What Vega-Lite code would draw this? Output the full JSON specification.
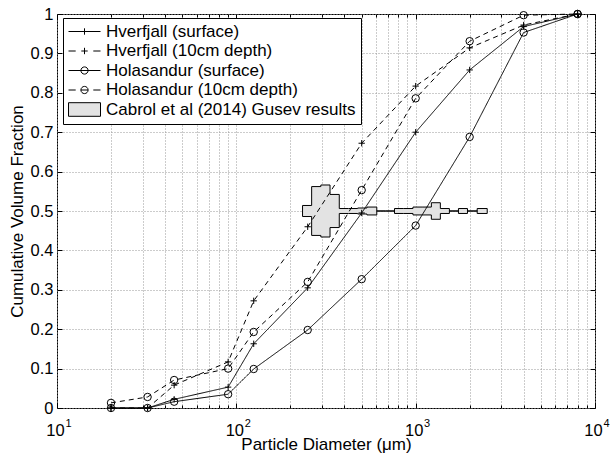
{
  "$schema": "https://vega.github.io/schema/vega-lite/v6.json",
  "width": 538,
  "height": 394,
  "autosize": "none",
  "padding": {"left": 57, "top": 14, "right": 16, "bottom": 46},
  "background": "white",
  "config": {
    "font": "Liberation Sans",
    "view": {"stroke": "black", "strokeWidth": 1},
    "axis": {"labelColor": "black", "titleColor": "black", "titleFontWeight": "normal", "tickColor": "black", "labelFontSize": 16.5, "titleFontSize": 17, "labelFont": "Liberation Sans", "titleFont": "Liberation Sans"}
  },
  "datasets": {
    "curves": [
      {"series": "Hverfjall (surface)", "d": 20, "f": 0},
      {"series": "Hverfjall (surface)", "d": 32, "f": 0},
      {"series": "Hverfjall (surface)", "d": 45, "f": 0.022},
      {"series": "Hverfjall (surface)", "d": 90, "f": 0.053},
      {"series": "Hverfjall (surface)", "d": 125, "f": 0.163},
      {"series": "Hverfjall (surface)", "d": 250, "f": 0.305},
      {"series": "Hverfjall (surface)", "d": 500, "f": 0.495},
      {"series": "Hverfjall (surface)", "d": 1000, "f": 0.70},
      {"series": "Hverfjall (surface)", "d": 2000, "f": 0.858},
      {"series": "Hverfjall (surface)", "d": 4000, "f": 0.968},
      {"series": "Hverfjall (surface)", "d": 8000, "f": 1.0},
      {"series": "Hverfjall (10cm depth)", "d": 20, "f": 0},
      {"series": "Hverfjall (10cm depth)", "d": 32, "f": 0},
      {"series": "Hverfjall (10cm depth)", "d": 45, "f": 0.058},
      {"series": "Hverfjall (10cm depth)", "d": 90, "f": 0.117},
      {"series": "Hverfjall (10cm depth)", "d": 125, "f": 0.272},
      {"series": "Hverfjall (10cm depth)", "d": 250, "f": 0.46},
      {"series": "Hverfjall (10cm depth)", "d": 500, "f": 0.672},
      {"series": "Hverfjall (10cm depth)", "d": 1000, "f": 0.817},
      {"series": "Hverfjall (10cm depth)", "d": 2000, "f": 0.914},
      {"series": "Hverfjall (10cm depth)", "d": 4000, "f": 0.972},
      {"series": "Hverfjall (10cm depth)", "d": 8000, "f": 1.0},
      {"series": "Holasandur (surface)", "d": 20, "f": 0},
      {"series": "Holasandur (surface)", "d": 32, "f": 0},
      {"series": "Holasandur (surface)", "d": 45, "f": 0.016},
      {"series": "Holasandur (surface)", "d": 90, "f": 0.035},
      {"series": "Holasandur (surface)", "d": 125, "f": 0.099},
      {"series": "Holasandur (surface)", "d": 250, "f": 0.198},
      {"series": "Holasandur (surface)", "d": 500, "f": 0.327},
      {"series": "Holasandur (surface)", "d": 1000, "f": 0.463},
      {"series": "Holasandur (surface)", "d": 2000, "f": 0.688},
      {"series": "Holasandur (surface)", "d": 4000, "f": 0.953},
      {"series": "Holasandur (surface)", "d": 8000, "f": 1.0},
      {"series": "Holasandur (10cm depth)", "d": 20, "f": 0.013},
      {"series": "Holasandur (10cm depth)", "d": 32, "f": 0.028},
      {"series": "Holasandur (10cm depth)", "d": 45, "f": 0.071},
      {"series": "Holasandur (10cm depth)", "d": 90, "f": 0.10},
      {"series": "Holasandur (10cm depth)", "d": 125, "f": 0.193},
      {"series": "Holasandur (10cm depth)", "d": 250, "f": 0.32},
      {"series": "Holasandur (10cm depth)", "d": 500, "f": 0.553},
      {"series": "Holasandur (10cm depth)", "d": 1000, "f": 0.786},
      {"series": "Holasandur (10cm depth)", "d": 2000, "f": 0.931},
      {"series": "Holasandur (10cm depth)", "d": 4000, "f": 0.997},
      {"series": "Holasandur (10cm depth)", "d": 8000, "f": 1.0}
    ],
    "gusev": [
      {"series": "Cabrol et al (2014) Gusev results", "d": 234, "lo": 0.486, "hi": 0.514},
      {"series": "Cabrol et al (2014) Gusev results", "d": 263, "lo": 0.438, "hi": 0.562},
      {"series": "Cabrol et al (2014) Gusev results", "d": 296, "lo": 0.434, "hi": 0.566},
      {"series": "Cabrol et al (2014) Gusev results", "d": 333, "lo": 0.458, "hi": 0.542},
      {"series": "Cabrol et al (2014) Gusev results", "d": 375, "lo": 0.4937, "hi": 0.5063},
      {"series": "Cabrol et al (2014) Gusev results", "d": 422, "lo": 0.4937, "hi": 0.5063},
      {"series": "Cabrol et al (2014) Gusev results", "d": 475, "lo": 0.4924, "hi": 0.5076},
      {"series": "Cabrol et al (2014) Gusev results", "d": 535, "lo": 0.49, "hi": 0.51},
      {"series": "Cabrol et al (2014) Gusev results", "d": 607, "lo": 0.5, "hi": 0.5},
      {"series": "Cabrol et al (2014) Gusev results", "d": 680, "lo": 0.5, "hi": 0.5},
      {"series": "Cabrol et al (2014) Gusev results", "d": 762, "lo": 0.4937, "hi": 0.5063},
      {"series": "Cabrol et al (2014) Gusev results", "d": 858, "lo": 0.4937, "hi": 0.5063},
      {"series": "Cabrol et al (2014) Gusev results", "d": 966, "lo": 0.49, "hi": 0.51},
      {"series": "Cabrol et al (2014) Gusev results", "d": 1086, "lo": 0.49, "hi": 0.51},
      {"series": "Cabrol et al (2014) Gusev results", "d": 1223, "lo": 0.479, "hi": 0.521},
      {"series": "Cabrol et al (2014) Gusev results", "d": 1373, "lo": 0.4937, "hi": 0.5063},
      {"series": "Cabrol et al (2014) Gusev results", "d": 1542, "lo": 0.5, "hi": 0.5},
      {"series": "Cabrol et al (2014) Gusev results", "d": 1732, "lo": 0.4937, "hi": 0.5063},
      {"series": "Cabrol et al (2014) Gusev results", "d": 1945, "lo": 0.5, "hi": 0.5},
      {"series": "Cabrol et al (2014) Gusev results", "d": 2203, "lo": 0.4937, "hi": 0.5063},
      {"series": "Cabrol et al (2014) Gusev results", "d": 2506, "lo": 0.4937, "hi": 0.5063}
    ]
  },
  "resolve": {"axis": {"x": "independent", "y": "independent"}},
  "layer": [
    {
      "data": {"name": "gusev"},
      "mark": {"type": "area", "interpolate": "step-after", "fill": "#e3e3e3", "fillOpacity": 1, "stroke": "black", "strokeWidth": 1},
      "encoding": {
        "x": {"field": "d", "type": "quantitative",
          "scale": {"type": "log", "domain": [10, 10000], "nice": false},
          "axis": {"orient": "bottom", "values": [10, 100, 1000, 10000], "labelExpr": "'10'", "labelPadding": 14, "labelOffset": -2, "labelFlush": false, "labelOverlap": false, "ticks": false, "domain": false, "grid": false,
            "title": "Particle Diameter (μm)", "titleY": 28, "titleBaseline": "top"}},
        "y": {"field": "hi", "type": "quantitative",
          "scale": {"domain": [0, 1], "nice": false, "zero": false},
          "axis": {"orient": "left", "values": [0, 0.1, 0.2, 0.3, 0.4, 0.5, 0.6, 0.7, 0.8, 0.9, 1], "format": "~g", "labelPadding": 4, "ticks": false, "domain": false, "grid": false,
            "title": "Cumulative Volume Fraction", "titleX": -39.5, "titleBaseline": "middle"}},
        "y2": {"field": "lo"}
      }
    },
    {
      "data": {"name": "curves"},
      "mark": {"type": "line", "stroke": "black", "strokeWidth": 1},
      "encoding": {
        "x": {"field": "d", "type": "quantitative",
          "scale": {"type": "log", "domain": [10, 10000], "nice": false},
          "axis": {"orient": "bottom", "values": [10, 20, 30, 40, 50, 60, 70, 80, 90, 100, 200, 300, 400, 500, 600, 700, 800, 900, 1000, 2000, 3000, 4000, 5000, 6000, 7000, 8000, 9000, 10000],
            "labels": false, "domain": false, "grid": true, "gridDash": [1, 2], "gridColor": "#999999", "gridWidth": 1,
            "ticks": true, "tickColor": "black", "tickSize": {"condition": {"test": "indexof([10,100,1000,10000], datum.value) >= 0", "value": -5}, "value": -3}, "title": null}},
        "y": {"field": "f", "type": "quantitative",
          "scale": {"domain": [0, 1], "nice": false, "zero": false},
          "axis": {"orient": "left", "values": [0, 0.1, 0.2, 0.3, 0.4, 0.5, 0.6, 0.7, 0.8, 0.9, 1], "labels": false, "domain": false, "grid": true, "gridDash": [1, 2], "gridColor": "#999999", "gridWidth": 1, "ticks": true, "tickSize": -5, "title": null}},
        "detail": {"field": "series", "type": "nominal"},
        "strokeDash": {"field": "series", "type": "nominal",
          "scale": {"domain": ["Hverfjall (surface)", "Hverfjall (10cm depth)", "Holasandur (surface)", "Holasandur (10cm depth)"], "range": [[1, 0], [5, 4], [1, 0], [5, 4]]},
          "legend": null}
      }
    },
    {
      "data": {"name": "curves"},
      "transform": [{"filter": "indexof(datum.series, 'Hverfjall') >= 0"}],
      "mark": {"type": "point", "shape": "M-1,0H1M0,-1V1", "size": 40, "filled": false, "stroke": "black", "strokeWidth": 1, "opacity": 1},
      "encoding": {
        "x": {"field": "d", "type": "quantitative",
          "scale": {"type": "log", "domain": [10, 10000], "nice": false},
          "axis": {"orient": "top", "values": [10, 20, 30, 40, 50, 60, 70, 80, 90, 100, 200, 300, 400, 500, 600, 700, 800, 900, 1000, 2000, 3000, 4000, 5000, 6000, 7000, 8000, 9000, 10000],
            "labels": false, "domain": false, "grid": false, "ticks": true, "tickColor": "black", "tickSize": {"condition": {"test": "indexof([10,100,1000,10000], datum.value) >= 0", "value": -5}, "value": -3}, "title": null}},
        "y": {"field": "f", "type": "quantitative",
          "scale": {"domain": [0, 1], "nice": false, "zero": false},
          "axis": {"orient": "right", "values": [0, 0.1, 0.2, 0.3, 0.4, 0.5, 0.6, 0.7, 0.8, 0.9, 1], "labels": false, "domain": false, "grid": false, "ticks": true, "tickSize": -5, "title": null}}
      }
    },
    {
      "data": {"name": "curves"},
      "transform": [{"filter": "indexof(datum.series, 'Holasandur') >= 0"}],
      "mark": {"type": "point", "shape": "circle", "size": 55, "filled": false, "stroke": "black", "strokeWidth": 1, "opacity": 1},
      "encoding": {
        "x": {"field": "d", "type": "quantitative",
          "scale": {"type": "log", "domain": [10, 10000], "nice": false},
          "axis": {"orient": "bottom", "values": [10, 100, 1000, 10000], "labelExpr": "datum.value == 10 ? '1' : datum.value == 100 ? '2' : datum.value == 1000 ? '3' : '4'", "labelFontSize": 11, "labelPadding": 9, "labelOffset": 11, "labelFlush": false, "labelOverlap": false, "ticks": false, "domain": false, "grid": false, "title": null}},
        "y": {"field": "f", "type": "quantitative",
          "scale": {"domain": [0, 1], "nice": false, "zero": false},
          "axis": null}
      }
    },
    {
      "data": {"name": "curves"},
      "transform": [{"filter": "datum.d < 0"}],
      "mark": {"type": "point", "filled": true, "strokeWidth": 1, "opacity": 1, "size": 256},
      "encoding": {
        "x": {"field": "d", "type": "quantitative", "scale": {"type": "log", "domain": [10, 10000], "nice": false}, "axis": null},
        "y": {"field": "f", "type": "quantitative", "scale": {"domain": [0, 1], "nice": false, "zero": false}, "axis": null},
        "shape": {"field": "series", "type": "nominal",
          "scale": {"domain": ["Hverfjall (surface)", "Hverfjall (10cm depth)", "Holasandur (surface)", "Holasandur (10cm depth)", "Cabrol et al (2014) Gusev results"],
            "range": ["M-1,0H3M1,-0.4V0.4", "M-1,0H-0.1M2.1,0H3M0.6,0H1.4M1,-0.4V0.4", "M-1,0H3M1.45,0A0.45,0.45 0 1 1 0.55,0A0.45,0.45 0 1 1 1.45,0", "M-1,0H-0.1M2.1,0H3M0.55,0H1.45M1.45,0A0.45,0.45 0 1 1 0.55,0A0.45,0.45 0 1 1 1.45,0", "M-1,-0.85H3V0.85H-1Z"]},
          "legend": {"orient": "none", "legendX": 6, "legendY": 4, "title": null, "padding": 5, "strokeColor": "black", "fillColor": "white", "cornerRadius": 0,
            "symbolSize": 256, "symbolStrokeWidth": 1, "symbolOpacity": 1, "labelFontSize": 17, "labelFont": "Liberation Sans", "labelColor": "black", "labelLimit": 500, "labelOffset": 21, "rowPadding": 1.5}},
        "fill": {"field": "series", "type": "nominal",
          "scale": {"domain": ["Hverfjall (surface)", "Hverfjall (10cm depth)", "Holasandur (surface)", "Holasandur (10cm depth)", "Cabrol et al (2014) Gusev results"],
            "range": ["transparent", "transparent", "transparent", "transparent", "#e3e3e3"]},
          "legend": {"orient": "none", "legendX": 6, "legendY": 4, "title": null, "padding": 5, "strokeColor": "black", "fillColor": "white", "cornerRadius": 0,
            "symbolSize": 256, "symbolStrokeWidth": 1, "symbolOpacity": 1, "labelFontSize": 17, "labelFont": "Liberation Sans", "labelColor": "black", "labelLimit": 500, "labelOffset": 21, "rowPadding": 1.5}},
        "stroke": {"field": "series", "type": "nominal",
          "scale": {"domain": ["Hverfjall (surface)", "Hverfjall (10cm depth)", "Holasandur (surface)", "Holasandur (10cm depth)", "Cabrol et al (2014) Gusev results"],
            "range": ["black", "black", "black", "black", "black"]},
          "legend": {"orient": "none", "legendX": 6, "legendY": 4, "title": null, "padding": 5, "strokeColor": "black", "fillColor": "white", "cornerRadius": 0,
            "symbolSize": 256, "symbolStrokeWidth": 1, "symbolOpacity": 1, "labelFontSize": 17, "labelFont": "Liberation Sans", "labelColor": "black", "labelLimit": 500, "labelOffset": 21, "rowPadding": 1.5}}
      }
    }
  ]
}
